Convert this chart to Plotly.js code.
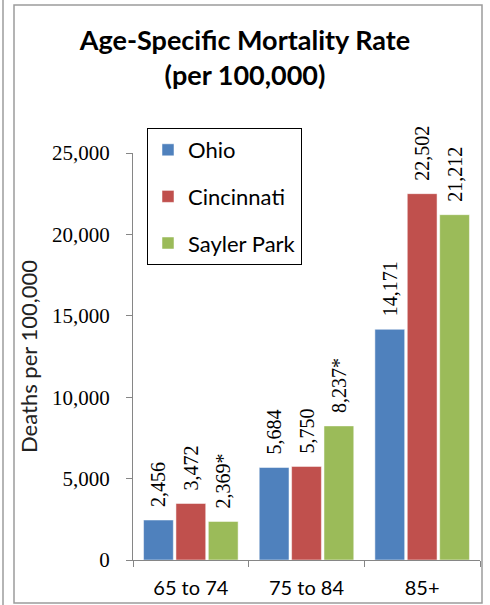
<!DOCTYPE html>
<html>
<head>
<meta charset="utf-8">
<script src="https://cdn.plot.ly/plotly-3.0.1.min.js"></script>
<style>
  html, body { margin: 0; padding: 0; background: #ffffff; }
  #chart { width: 490px; height: 605px; }
</style>
</head>
<body>
<div id="chart"></div>
<script>
// ---- data ----
const categories = ["65 to 74", "75 to 84", "85+"];
const seriesNames = ["Ohio", "Cincinnati", "Sayler Park"];
const ohio = [2456, 5684, 14171];
const cincinnati = [3472, 5750, 22502];
const saylerPark = [2369, 8237, 21212];
const ohioNotes = ["", "", ""];
const cincinnatiNotes = ["", "", ""];
const saylerNotes = ["*", "*", ""];
const yTickVals = [0, 5000, 10000, 15000, 20000, 25000];

// ---- layout constants ----
const W = 490, H = 605;
const M = { l: 133, r: 10, t: 153, b: 45 };
const PW = W - M.l - M.r, PH = H - M.t - M.b;
const px = x => (x - M.l) / PW;
const py = y => (H - M.b - y) / PH;

const colors = ["#4F81BD", "#C0504D", "#9BBB59"];
const fmt = v => v.toLocaleString("en-US");
const labels = (vals, notes) => vals.map((v, i) => "\u00a0\u00a0" + fmt(v) + notes[i]);

const seriesVals = [ohio, cincinnati, saylerPark];
const seriesNotes = [ohioNotes, cincinnatiNotes, saylerNotes];

const traces = seriesNames.map((name, k) => ({
  type: "bar",
  name: name,
  x: categories,
  y: seriesVals[k],
  text: labels(seriesVals[k], seriesNotes[k]),
  textposition: "outside",
  textangle: -90,
  constraintext: "none",
  cliponaxis: false,
  textfont: { family: "Liberation Serif, serif", size: 20, color: "#000000" },
  marker: { color: colors[k], line: { color: "#ffffff", width: 0.5 } },
  legendgroup: "g" + k,
  hoverinfo: "skip"
}));

const layout = {
  width: W, height: H,
  margin: M,
  paper_bgcolor: "#ffffff",
  plot_bgcolor: "#ffffff",
  barmode: "group",
  bargap: 0.16,
  bargroupgap: 0.08,
  showlegend: true,
  title: {
    text: "<b>Age-Specific Mortality Rate<br>(per 100,000)</b>",
    font: { family: "Lato, sans-serif", size: 27, color: "#000000" },
    x: 0.5, xref: "container", xanchor: "center",
    y: 1 - 50 / H, yref: "container", yanchor: "top"
  },
  legend: {
    x: px(147), y: py(128), xanchor: "left", yanchor: "top",
    bordercolor: "#000000", borderwidth: 1, bgcolor: "#ffffff",
    font: { family: "Lato, sans-serif", size: 22, color: "#000000" },
    traceorder: "grouped", tracegroupgap: 15,
    itemwidth: 30
  },
  xaxis: {
    type: "category",
    showline: true, linecolor: "#868686", linewidth: 1,
    ticks: "outside", tickson: "boundaries", ticklen: 6, tickcolor: "#868686",
    ticklabelstandoff: 10,
    tickfont: { family: "Lato, sans-serif", size: 20, color: "#000000" },
    showgrid: false, zeroline: false, fixedrange: true
  },
  yaxis: {
    range: [0, 25000],
    tickvals: yTickVals,
    tickformat: ",d",
    showline: true, linecolor: "#868686", linewidth: 1,
    ticks: "outside", ticklen: 6, tickcolor: "#868686",
    ticklabelstandoff: 12,
    tickfont: { family: "Liberation Serif, serif", size: 21, color: "#000000" },
    showgrid: false, zeroline: false, fixedrange: true,
    title: {
      text: "Deaths per 100,000",
      font: { family: "Lato, sans-serif", size: 22, color: "#222222" },
      standoff: 8
    }
  },
  shapes: [
    { type: "rect", xref: "paper", yref: "paper",
      x0: px(14), x1: px(482), y0: py(603), y1: py(5),
      line: { color: "#9C9C9C", width: 1.5 }, fillcolor: "rgba(0,0,0,0)", layer: "above" },
    { type: "line", xref: "paper", yref: "paper",
      x0: px(3), x1: px(3), y0: py(605), y1: py(0),
      line: { color: "#9C9C9C", width: 1.5 }, layer: "above" }
  ]
};

Plotly.newPlot("chart", traces, layout, { staticPlot: true, displayModeBar: false });
</script>
</body>
</html>
